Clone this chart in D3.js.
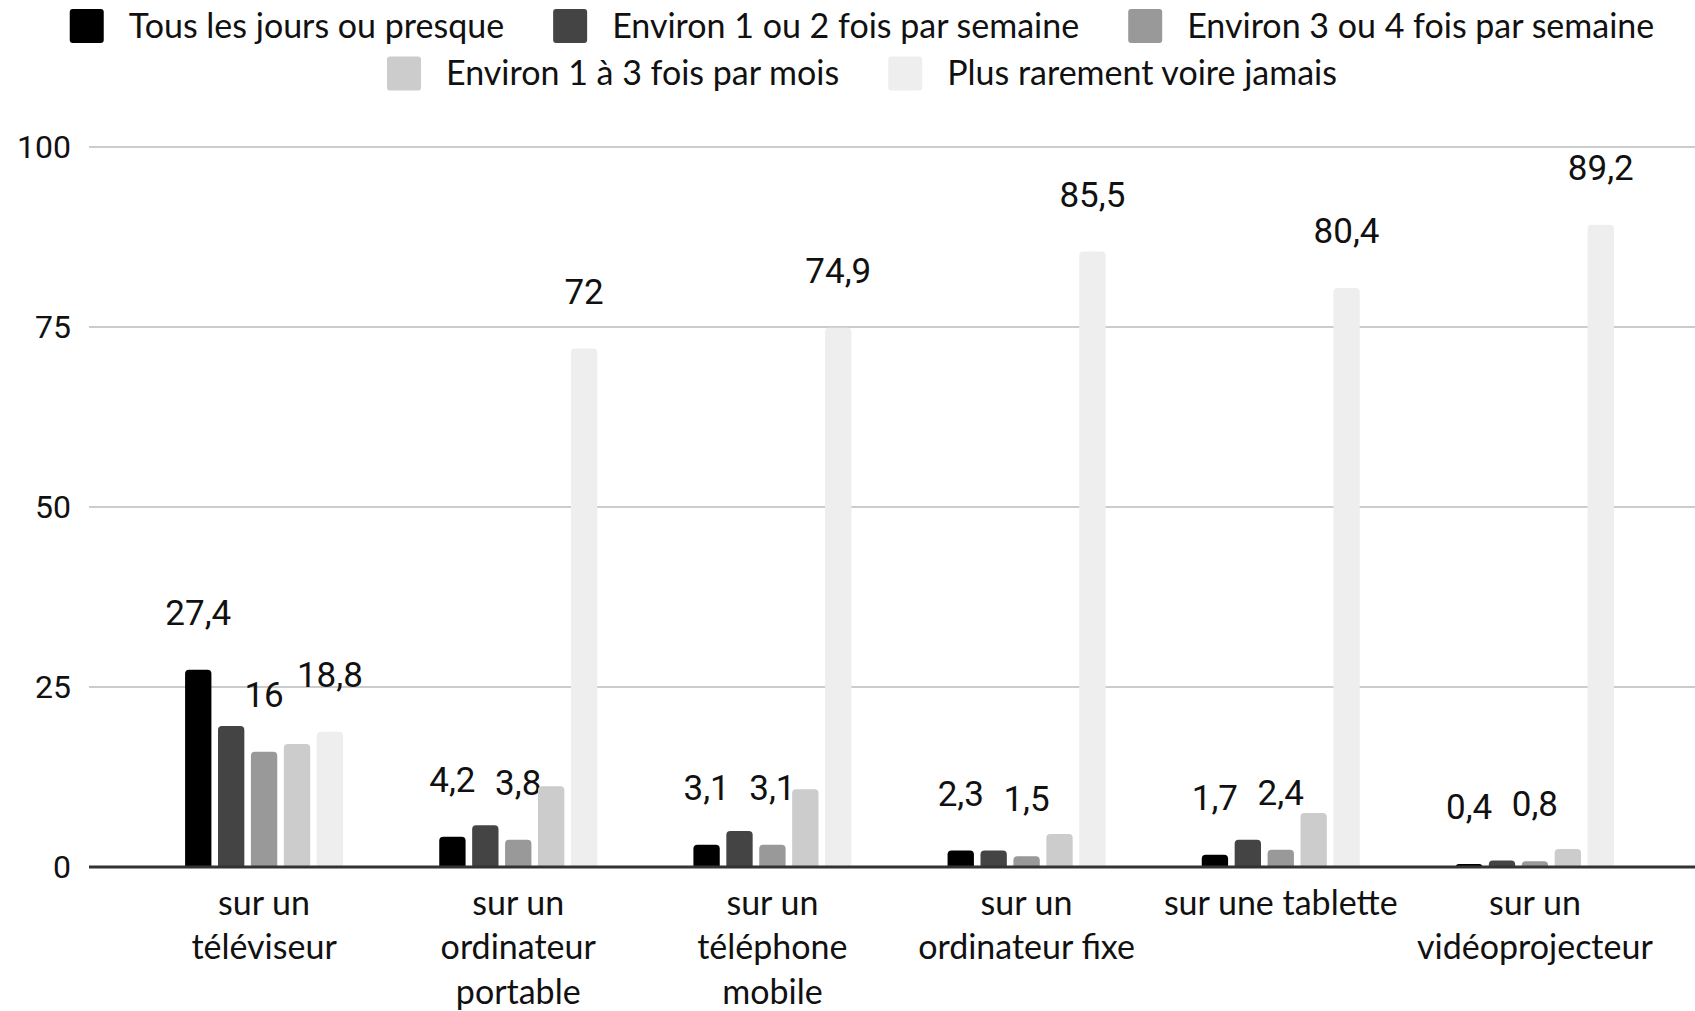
<!DOCTYPE html>
<html>
<head>
<meta charset="utf-8">
<script src="https://cdn.jsdelivr.net/npm/d3@7"></script>
<style>
  body { margin: 0; background: #fff; }
  svg { display: block; }
</style>
</head>
<body>
<div class="container"></div>
<script>
let width = 1695;
let height = 1011;

let categories = [
  ['sur un', 'téléviseur'],
  ['sur un', 'ordinateur', 'portable'],
  ['sur un', 'téléphone', 'mobile'],
  ['sur un', 'ordinateur fixe'],
  ['sur une tablette'],
  ['sur un', 'vidéoprojecteur']
];

let seriesNames = [
  'Tous les jours ou presque',
  'Environ 1 ou 2 fois par semaine',
  'Environ 3 ou 4 fois par semaine',
  'Environ 1 à 3 fois par mois',
  'Plus rarement voire jamais'
];

let colors = ['#000000', '#444444', '#999999', '#cccccc', '#eeeeee'];

let dailyValues = [27.4, 4.2, 3.1, 2.3, 1.7, 0.4];
let weekly12Values = [19.6, 5.8, 5.0, 2.3, 3.8, 0.9];
let weekly34Values = [16, 3.8, 3.1, 1.5, 2.4, 0.8];
let monthlyValues = [17.1, 11.2, 10.8, 4.6, 7.5, 2.5];
let rarelyValues = [18.8, 72, 74.9, 85.5, 80.4, 89.2];

let series = [dailyValues, weekly12Values, weekly34Values, monthlyValues, rarelyValues];

// only every other series gets a label (the others would overlap)
let labelledSeries = [0, 2, 4];

let yTicks = [0, 25, 50, 75, 100];

let svg = d3.select('.container').append('svg')
  .attr('width', width)
  .attr('height', height);

let y = d3.scaleLinear()
  .domain([0, 100])
  .range([867, 147]);

let x0 = d3.scaleBand()
  .domain(d3.range(categories.length))
  .range([137, 1662]);

let groupWidth = 158;

let x1 = d3.scaleBand()
  .domain(d3.range(series.length))
  .range([(x0.bandwidth() - groupWidth) / 2, (x0.bandwidth() + groupWidth) / 2])
  .paddingInner(0.2);

/* gridlines */
svg.append('g')
  .selectAll('line')
  .data(yTicks.filter((t) => t > 0))
  .enter()
  .append('line')
  .attr('x1', 89)
  .attr('x2', width)
  .attr('y1', (d) => y(d))
  .attr('y2', (d) => y(d))
  .attr('stroke', '#cccccc')
  .attr('stroke-width', 2);

svg.append('g')
  .selectAll('text')
  .data(yTicks)
  .enter()
  .append('text')
  .text((d) => d)
  .attr('x', 71)
  .attr('y', (d) => y(d))
  .attr('dy', '0.35em')
  .attr('text-anchor', 'end')
  .style('font-family', 'Roboto')
  .style('font-size', '32px')
  .attr('fill', '#111');

/* bars */
function barPath(x, w, top, bottom, r) {
  let h = bottom - top;
  r = Math.min(r, h, w / 2);
  return `M${x},${bottom}V${top + r}Q${x},${top} ${x + r},${top}` +
    `H${x + w - r}Q${x + w},${top} ${x + w},${top + r}V${bottom}Z`;
}

let groups = svg.append('g')
  .selectAll('g')
  .data(categories)
  .enter()
  .append('g')
  .attr('transform', (d, i) => `translate(${x0(i)},0)`);

groups.each(function (cat, ci) {
  let g = d3.select(this);

  for (let si = 0; si < series.length; si++) {
    let v = series[si][ci];

    g.append('path')
      .attr('d', barPath(x1(si), x1.bandwidth(), y(v), y(0), 4))
      .attr('fill', colors[si]);

    if (labelledSeries.includes(si)) {
      g.append('text')
        .text(String(v).replace('.', ','))
        .attr('x', x1(si) + x1.bandwidth() / 2)
        .attr('y', y(v) - 57)
        .attr('dy', '0.35em')
        .attr('text-anchor', 'middle')
        .style('font-family', 'Roboto')
        .style('font-size', '35px')
        .attr('fill', '#111');
    }
  }

  let label = g.append('text')
    .attr('text-anchor', 'middle')
    .style('font-family', 'Lato')
    .style('font-size', '34px')
    .attr('fill', '#111');

  cat.forEach((line, li) => {
    label.append('tspan')
      .text(line)
      .attr('x', x0.bandwidth() / 2)
      .attr('y', 903 + li * 44.5)
      .attr('dy', '0.35em');
  });
});

/* baseline */
svg.append('line')
  .attr('x1', 89)
  .attr('x2', width)
  .attr('y1', y(0))
  .attr('y2', y(0))
  .attr('stroke', '#333333')
  .attr('stroke-width', 3);

/* legend */
let legendRows = [[0, 1, 2], [3, 4]];
let rowY = [26, 73.5];
let swatch = 34;
let swatchGap = 25;
let itemGap = 49;
let legendCenter = 862;

legendRows.forEach((row, ri) => {
  let lg = svg.append('g');
  let cursor = 0;

  for (let si of row) {
    lg.append('rect')
      .attr('x', cursor)
      .attr('y', rowY[ri] - swatch / 2)
      .attr('width', swatch)
      .attr('height', swatch)
      .attr('rx', 3)
      .attr('fill', colors[si]);

    let t = lg.append('text')
      .text(seriesNames[si])
      .attr('x', cursor + swatch + swatchGap)
      .attr('y', rowY[ri])
      .attr('dy', '0.35em')
      .style('font-family', 'Lato')
      .style('font-size', '34px')
      .attr('fill', '#111');

    cursor += swatch + swatchGap + t.node().getComputedTextLength() + itemGap;
  }

  cursor -= itemGap;
  lg.attr('transform', `translate(${legendCenter - cursor / 2},0)`);
});
</script>
</body>
</html>
